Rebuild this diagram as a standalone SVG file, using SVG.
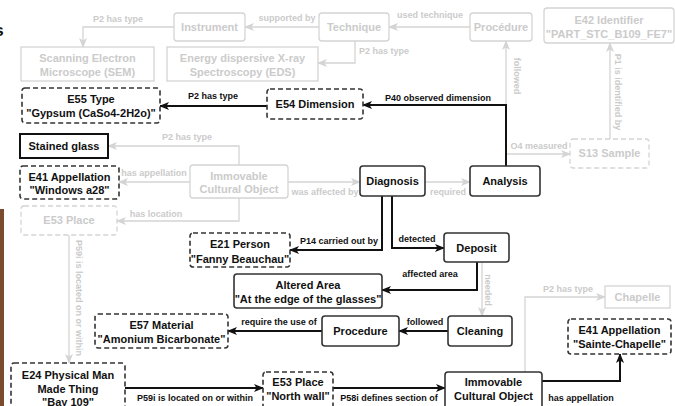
<svg xmlns="http://www.w3.org/2000/svg" width="675" height="406" viewBox="0 0 675 406">
<style>
.fn{fill:#fff;stroke:#d4d4d4;stroke-width:1.3}
.fd{fill:#fff;stroke:#d4d4d4;stroke-width:1.3;stroke-dasharray:5 3}
.bn{fill:#fff;stroke:#333;stroke-width:1.6}
.bd{fill:#fff;stroke:#333;stroke-width:1.6;stroke-dasharray:5 3}
.sg{fill:#fff;stroke:#111;stroke-width:2}
text{font-family:"Liberation Sans",Arial,sans-serif;font-weight:bold;text-anchor:middle}
.ft{font-size:11px;fill:#cbcbcb}
.bt{font-size:11px;fill:#111}
.fl{font-size:9px;fill:#cbcbcb}
.bl{font-size:9px;fill:#111}
.ge{fill:none;stroke:#d4d4d4;stroke-width:1.3;marker-end:url(#ag)}
.gl{fill:none;stroke:#d4d4d4;stroke-width:1.3}
.be{fill:none;stroke:#111;stroke-width:2;marker-end:url(#ab)}
</style>
<defs>
<marker id="ab" viewBox="0 0 10 8" refX="9" refY="4" markerWidth="10" markerHeight="8" markerUnits="userSpaceOnUse" orient="auto"><path d="M0,0 L10,4 L0,8 L2.5,4 z" fill="#111"/></marker>
<marker id="ag" viewBox="0 0 10 8" refX="9" refY="4" markerWidth="10" markerHeight="8" markerUnits="userSpaceOnUse" orient="auto"><path d="M0,0 L10,4 L0,8 L2.5,4 z" fill="#d4d4d4"/></marker>
</defs>
<rect x="0" y="0" width="675" height="406" fill="#fff"/>
<rect x="0" y="209" width="4" height="197" fill="#7a4b2c"/>
<text x="-1" y="36" style="font-size:17px;fill:#111;text-anchor:middle">s</text>

<g id="connectors">
<path class="ge" d="M174,27 H83 V47"/>
<path class="ge" d="M319,27 H245"/>
<path class="ge" d="M355,41 V63 H318"/>
<path class="ge" d="M470,27 H389"/>
<path class="ge" d="M506,106 V41"/>
<path class="ge" d="M506,154 H570"/>
<path class="ge" d="M610,139 V43"/>
<path class="ge" d="M288,182 H360"/>
<path class="ge" d="M425,182 H470"/>
<path class="ge" d="M239,165 V146 H108"/>
<path class="ge" d="M190,182 H119"/>
<path class="ge" d="M239,198 V221 H117"/>
<path class="ge" d="M69,235 V363"/>
<path class="ge" d="M482,262 V316"/>
<path class="ge" d="M525,372 V297 H605"/>

<path class="be" d="M267,106 H160"/>
<path class="be" d="M506,166 V105 H363"/>
<path class="be" d="M382,196 V250 H290"/>
<path class="be" d="M392,196 V248 H444"/>
<path class="be" d="M477,262 V290 H382"/>
<path class="be" d="M448,331 H399"/>
<path class="be" d="M322,331 H228"/>
<path class="be" d="M125,388 H263"/>
<path class="be" d="M333,388 H445"/>
<path class="be" d="M542,381 H620 V354"/>

<text class="fl" x="118" y="22">P2 has type</text>
<text class="fl" x="287" y="21">supported by</text>
<text class="fl" x="384" y="54">P2 has type</text>
<text class="fl" x="430" y="18">used technique</text>
<text class="fl" transform="translate(514,76) rotate(90)">followed</text>
<text class="fl" x="539" y="149">O4 measured</text>
<text class="fl" transform="translate(615,92) rotate(90)">P1 is identified by</text>
<text class="fl" x="325" y="195">was affected by</text>
<text class="fl" x="448" y="195">required</text>
<text class="fl" x="187" y="140">P2 has type</text>
<text class="fl" x="154" y="176">has appellation</text>
<text class="fl" x="156" y="217">has location</text>
<text class="fl" transform="translate(76,298) rotate(90)">P59i is located on or within</text>
<text class="fl" transform="translate(485,290) rotate(90)">needed</text>
<text class="fl" x="568" y="292">P2 has type</text>

<text class="bl" x="213" y="99">P2 has type</text>
<text class="bl" x="438" y="101">P40 observed dimension</text>
<text class="bl" x="339" y="244">P14 carried out by</text>
<text class="bl" x="417" y="242">detected</text>
<text class="bl" x="430" y="277">affected area</text>
<text class="bl" x="425" y="325">followed</text>
<text class="bl" x="279" y="325">require the use of</text>
<text class="bl" x="195" y="401">P59i is located on or within</text>
<text class="bl" x="389" y="401">P58i defines section of</text>
<text class="bl" x="581" y="401">has appellation</text>
</g>

<g id="instrument"><rect class="fn" x="174" y="13" width="71" height="28" rx="3"/><text class="ft" x="209.5" y="31">Instrument</text></g>
<g id="technique"><rect class="fn" x="319" y="13" width="70" height="28" rx="3"/><text class="ft" x="354" y="31">Technique</text></g>
<g id="procedure-top"><rect class="fn" x="470" y="13" width="62" height="28" rx="3"/><text class="ft" x="501" y="31">Procédure</text></g>
<g id="e42"><rect class="fn" x="544" y="8" width="130" height="35" rx="3"/><text class="ft" x="609" y="24">E42 Identifier</text><text class="ft" x="609" y="38">"PART_STC_B109_FE7"</text></g>
<g id="sem"><rect class="fn" x="21" y="47" width="133" height="34"/><text class="ft" x="87.5" y="62">Scanning Electron</text><text class="ft" x="87.5" y="76">Microscope (SEM)</text></g>
<g id="eds"><rect class="fn" x="167" y="47" width="151" height="34"/><text class="ft" x="242.5" y="62">Energy dispersive X-ray</text><text class="ft" x="242.5" y="76">Spectroscopy (EDS)</text></g>
<g id="ico-faint"><rect class="fn" x="190" y="165" width="98" height="33" rx="3"/><text class="ft" x="239" y="180">Immovable</text><text class="ft" x="239" y="193">Cultural Object</text></g>
<g id="e53-faint"><rect class="fd" x="21" y="206" width="96" height="29" rx="3"/><text class="ft" x="69" y="224">E53 Place</text></g>
<g id="s13"><rect class="fd" x="570" y="139" width="79" height="29" rx="3"/><text class="ft" x="609.5" y="157">S13 Sample</text></g>
<g id="chapelle"><rect class="fn" x="605" y="286" width="65" height="22"/><text class="ft" x="637.5" y="301">Chapelle</text></g>

<g id="e55"><rect class="bd" x="22" y="88" width="138" height="35" rx="3"/><text class="bt" x="91" y="103">E55 Type</text><text class="bt" x="91" y="117">"Gypsum (CaSo4-2H2o)"</text></g>
<g id="e54"><rect class="bd" x="267" y="89" width="96" height="30" rx="3"/><text class="bt" x="315" y="108">E54 Dimension</text></g>
<g id="stained-glass"><rect class="sg" x="20" y="134" width="88" height="24"/><text class="bt" x="64" y="150">Stained glass</text></g>
<g id="e41-windows"><rect class="bd" x="20" y="166" width="99" height="33" rx="3"/><text class="bt" x="69.5" y="181">E41 Appellation</text><text class="bt" x="69.5" y="194">"Windows a28"</text></g>
<g id="diagnosis"><rect class="bn" x="360" y="166" width="65" height="30" rx="3"/><text class="bt" x="392.5" y="185">Diagnosis</text></g>
<g id="analysis"><rect class="bn" x="470" y="166" width="70" height="30" rx="3"/><text class="bt" x="505" y="185">Analysis</text></g>
<g id="e21"><rect class="bd" x="190" y="233" width="100" height="34" rx="3"/><text class="bt" x="240" y="248">E21 Person</text><text class="bt" x="240" y="263">"Fanny Beauchau"</text></g>
<g id="deposit"><rect class="bn" x="444" y="233" width="65" height="29" rx="3"/><text class="bt" x="476.5" y="251.5">Deposit</text></g>
<g id="altered-area"><rect class="bn" x="234" y="274" width="148" height="34" rx="3"/><text class="bt" x="308" y="289">Altered Area</text><text class="bt" x="308" y="303">"At the edge of the glasses"</text></g>
<g id="e57"><rect class="bd" x="95" y="314" width="133" height="34" rx="3"/><text class="bt" x="161.5" y="329">E57 Material</text><text class="bt" x="161.5" y="343">"Amonium Bicarbonate"</text></g>
<g id="procedure"><rect class="bn" x="322" y="316" width="77" height="30" rx="3"/><text class="bt" x="360.5" y="335">Procedure</text></g>
<g id="cleaning"><rect class="bn" x="448" y="316" width="64" height="30" rx="3"/><text class="bt" x="480" y="335">Cleaning</text></g>
<g id="e41-sainte"><rect class="bd" x="568" y="319" width="103" height="35" rx="3"/><text class="bt" x="619.5" y="334">E41 Appellation</text><text class="bt" x="619.5" y="348">"Sainte-Chapelle"</text></g>
<g id="e24"><rect class="bd" x="11" y="363" width="114" height="50" rx="3"/><text class="bt" x="68" y="379">E24 Physical Man</text><text class="bt" x="68" y="393">Made Thing</text><text class="bt" x="68" y="406">"Bay 109"</text></g>
<g id="e53-north"><rect class="bd" x="263" y="372" width="70" height="40" rx="3"/><text class="bt" x="298" y="386">E53 Place</text><text class="bt" x="298" y="400">"North wall"</text></g>
<g id="ico"><rect class="bn" x="445" y="372" width="97" height="40" rx="3"/><text class="bt" x="493.5" y="386">Immovable</text><text class="bt" x="493.5" y="400">Cultural Object</text></g>
</svg>
